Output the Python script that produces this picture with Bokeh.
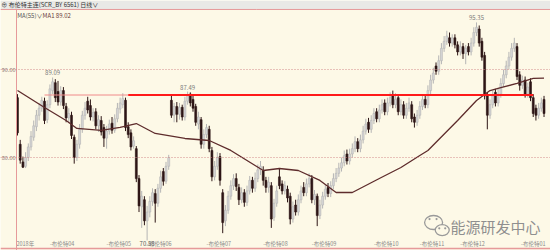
from bokeh.plotting import figure
from bokeh.models import Range1d, Span, BoxAnnotation, Label, ColumnDataSource
from bokeh.core.properties import value
from bokeh.embed import file_html
from bokeh.resources import INLINE

# ---------------- data ----------------
opens = [86.8, 81.5, 79.5, 79.0, 80.0, 81.2, 82.3, 83.5, 84.8, 85.6,
         86.4, 84.3, 86.0, 87.6, 88.5, 87.5, 86.3, 87.6, 85.8, 84.5,
         84.8, 82.3, 80.0, 81.5, 83.2, 84.8, 86.4, 85.9, 84.6, 85.2,
         83.6, 84.2, 83.4, 82.2, 83.0, 83.9, 83.1, 84.4, 85.5, 86.0,
         86.5, 83.5, 82.8, 81.3, 81.0, 77.6, 74.4, 75.2, 72.8, 73.8,
         75.0, 75.9, 74.8, 76.5, 78.4, 77.3, 79.0, 86.5, 84.8, 85.8,
         84.9, 85.7, 84.6, 86.4, 87.2, 86.6, 85.8, 83.8, 84.3, 81.5,
         82.6, 83.2, 80.8, 77.8, 79.0, 80.1, 76.0, 72.8, 74.0, 75.6,
         76.8, 77.6, 76.6, 75.2, 76.0, 74.9, 76.2, 77.4, 76.5, 77.6,
         78.6, 78.5, 77.4, 76.6, 76.8, 73.2, 74.8, 77.8, 77.0, 76.2,
         76.4, 75.6, 73.0, 74.6, 73.8, 75.2, 76.6, 76.0, 77.0, 77.6,
         75.2, 75.6, 73.4, 74.6, 75.6, 76.6, 75.9, 76.8, 77.6, 78.2,
         78.8, 79.4, 80.4, 79.6, 80.4, 81.0, 81.8, 81.0, 82.0, 83.0,
         84.0, 83.2, 84.2, 85.2, 84.4, 85.4, 86.2, 85.2, 86.2, 87.0,
         86.0, 86.8, 85.2, 86.0, 84.8, 85.6, 86.0, 84.6, 84.0, 84.8,
         85.8, 86.6, 86.0, 87.6, 88.8, 90.4, 89.8, 91.0, 92.4, 93.2,
         93.6, 93.0, 93.6, 92.8, 92.0, 92.6, 91.8, 92.6, 92.0, 93.0,
         94.2, 94.6, 93.2, 91.6, 87.0, 84.8, 86.0, 87.4, 86.2, 87.2,
         88.4, 89.4, 90.4, 91.4, 92.4, 92.6, 89.4, 88.2, 88.8, 87.2,
         88.6, 86.8, 85.6, 84.8, 85.6, 86.6]
highs = [87.2, 82.0, 80.1, 80.6, 81.6, 83.0, 84.2, 85.4, 86.2, 86.9,
         86.8, 86.5, 88.3, 89.09, 88.9, 88.7, 88.1, 88.0, 86.2, 85.6,
         85.2, 82.6, 82.0, 83.8, 85.3, 86.3, 86.9, 86.6, 85.6, 85.6,
         84.8, 84.7, 83.8, 83.6, 84.3, 84.6, 84.9, 86.2, 86.8, 87.3,
         86.8, 84.0, 83.2, 82.4, 81.3, 78.0, 76.2, 75.6, 74.5, 75.6,
         76.5, 76.4, 77.0, 78.5, 78.8, 79.5, 80.3, 87.0, 86.2, 86.3,
         86.2, 86.0, 86.9, 87.49, 87.4, 87.1, 86.1, 85.2, 84.6, 83.2,
         83.8, 83.6, 81.2, 79.6, 80.6, 80.5, 76.4, 74.6, 76.2, 77.4,
         78.1, 78.2, 77.0, 76.6, 76.4, 76.8, 77.9, 77.8, 78.3, 79.2,
         79.6, 79.0, 77.8, 77.8, 77.2, 75.3, 76.8, 78.8, 77.4, 77.3,
         76.8, 76.0, 75.0, 75.2, 75.8, 76.8, 77.2, 77.6, 78.2, 78.0,
         76.3, 75.9, 75.2, 76.1, 76.9, 77.1, 77.3, 78.2, 78.8, 79.4,
         80.0, 80.8, 80.9, 81.0, 81.6, 82.4, 82.2, 82.6, 83.6, 84.4,
         84.5, 84.8, 85.6, 85.6, 86.0, 86.6, 86.6, 86.8, 87.4, 87.6,
         87.3, 87.2, 86.6, 86.4, 86.2, 86.8, 86.4, 85.0, 85.4, 86.4,
         87.2, 87.0, 88.2, 89.4, 90.2, 90.8, 91.6, 93.0, 93.8, 94.4,
         94.2, 94.0, 94.0, 93.2, 93.2, 93.0, 92.8, 93.0, 93.6, 94.8,
         95.35, 95.0, 93.6, 92.0, 87.4, 86.6, 87.6, 87.8, 87.8, 89.0,
         90.0, 91.0, 92.0, 93.0, 93.6, 93.0, 89.8, 89.3, 89.2, 88.5,
         89.0, 87.2, 86.0, 86.2, 86.8, 87.0]
lows = [82.5, 79.3, 78.8, 78.8, 79.6, 80.8, 81.9, 83.0, 84.2, 85.2,
        83.8, 83.9, 85.6, 87.2, 86.3, 85.9, 85.9, 85.5, 84.0, 83.9,
        82.1, 79.3, 79.6, 81.0, 82.8, 84.3, 85.0, 84.2, 84.1, 83.2,
        82.9, 82.5, 81.2, 81.0, 82.6, 82.7, 82.8, 84.0, 85.0, 85.6,
        83.0, 82.2, 80.8, 81.0, 77.2, 73.8, 72.0, 72.3, 70.58, 73.2,
        74.5, 72.6, 74.4, 76.0, 76.8, 77.0, 78.6, 84.5, 84.0, 84.0,
        84.3, 84.2, 84.2, 86.0, 85.8, 85.2, 83.6, 83.2, 81.0, 81.0,
        82.2, 80.6, 77.3, 77.4, 78.6, 76.8, 71.4, 72.2, 73.6, 75.2,
        76.3, 76.2, 74.6, 74.8, 74.4, 74.5, 75.8, 76.0, 76.1, 77.2,
        78.0, 76.8, 76.0, 76.0, 72.0, 72.8, 74.4, 76.4, 75.8, 75.8,
        74.9, 72.4, 72.6, 73.4, 73.4, 74.8, 75.6, 75.6, 76.6, 74.8,
        74.6, 72.2, 73.0, 74.2, 75.2, 75.5, 75.5, 76.4, 77.2, 77.8,
        78.4, 79.0, 79.2, 79.2, 80.0, 80.6, 80.6, 80.6, 81.6, 82.6,
        82.8, 82.8, 83.8, 84.0, 84.0, 85.0, 84.8, 84.8, 85.8, 85.6,
        85.6, 84.8, 84.8, 84.4, 84.4, 85.2, 84.0, 83.4, 83.6, 84.4,
        85.4, 85.6, 85.6, 87.2, 88.4, 89.4, 89.4, 90.6, 92.0, 92.8,
        92.6, 92.6, 92.4, 91.6, 91.6, 91.2, 90.6, 91.6, 91.6, 92.6,
        93.8, 92.6, 91.0, 86.6, 83.2, 84.4, 85.6, 85.8, 85.8, 86.8,
        88.0, 89.0, 90.0, 91.0, 92.0, 88.8, 87.6, 87.8, 86.8, 86.8,
        86.4, 84.6, 84.2, 84.4, 85.2, 84.6]
closes = [82.8, 79.7, 78.9, 80.0, 81.2, 82.4, 83.6, 84.8, 85.6, 86.5,
          84.2, 86.0, 87.8, 88.6, 86.8, 86.3, 87.6, 85.9, 84.5, 85.0,
          82.5, 80.0, 81.5, 83.2, 84.8, 85.6, 85.4, 84.6, 85.1, 83.6,
          84.3, 82.9, 82.2, 83.0, 83.8, 83.1, 84.4, 85.6, 86.2, 86.7,
          83.4, 82.6, 81.2, 81.9, 77.6, 74.5, 75.6, 72.8, 73.8, 75.0,
          76.0, 74.8, 76.5, 77.8, 77.3, 79.0, 80.0, 84.8, 85.8, 84.9,
          85.7, 84.6, 86.4, 87.0, 86.2, 85.6, 84.0, 84.6, 81.5, 82.6,
          83.4, 81.0, 77.8, 79.0, 80.0, 77.4, 72.6, 74.0, 75.6, 76.8,
          77.6, 76.7, 75.2, 76.0, 74.9, 76.2, 77.4, 76.5, 77.6, 78.6,
          79.0, 77.4, 76.6, 77.2, 73.0, 74.8, 76.2, 76.8, 76.2, 76.8,
          75.4, 73.0, 74.4, 73.8, 75.2, 76.2, 76.0, 77.0, 77.6, 75.2,
          75.8, 73.4, 74.6, 75.6, 76.4, 75.9, 76.8, 77.6, 78.2, 78.8,
          79.4, 80.2, 79.6, 80.4, 81.0, 81.8, 81.0, 82.0, 83.0, 83.8,
          83.2, 84.2, 85.0, 84.4, 85.4, 86.0, 85.2, 86.2, 86.8, 86.0,
          86.6, 85.2, 86.0, 84.8, 85.6, 86.2, 84.4, 84.0, 84.8, 85.8,
          86.6, 86.0, 87.6, 88.8, 89.6, 89.8, 91.0, 92.4, 93.2, 93.8,
          93.0, 93.6, 92.8, 92.0, 92.6, 91.8, 92.4, 92.0, 93.0, 94.2,
          94.8, 93.0, 91.4, 87.0, 84.8, 86.0, 87.0, 86.2, 87.2, 88.4,
          89.4, 90.4, 91.4, 92.4, 93.0, 89.2, 88.2, 88.8, 87.2, 88.0,
          86.8, 85.0, 84.8, 85.6, 86.2, 85.0]

# MA(55) line read at sample positions (candle index, price)
ma_idx = [0, 10, 18, 22, 31, 38, 44, 51, 62, 71, 79, 91, 97, 104, 112, 118,
          124, 134, 142, 149, 152, 163, 170, 175, 179, 185, 191, 195]
ma_val = [87.61, 85.68, 84.2, 83.3, 83.07, 83.41, 83.86, 82.73, 82.16, 81.93,
          80.8, 78.52, 78.75, 78.52, 77.39, 76.02, 76.02, 77.61, 78.86, 80.23,
          80.8, 84.2, 86.48, 87.61, 87.95, 88.41, 88.98, 89.02]

# horizontal red resistance line
red_level = 87.1
red_thin_span = [10, 41]
red_thick_span = [41, 191]

# marked extremes
peak_idx = [13, 63, 170]
peak_val = [89.09, 87.49, 95.35]
low_idx = [48]
low_val = [70.58]

# y gridline values
y_ticks = [80.0, 90.0]

# x axis labels (index where each label starts)
x_label_idx = [-0.4, 12, 33, 48, 70, 91, 109, 132, 149, 164, 186.5]
x_labels = ["2018年", "-布伦特04", "-布伦特05", "-布伦特06", "-布伦特07",
            "-布伦特08", "-布伦特09", "-布伦特10", "-布伦特11", "-布伦特12",
            "-布伦特01"]

# ---------------- styling ----------------
CREAM = "#fdf9e7"
PINK = "#e69a9a"
UP_FILL = "#d6d6d6"
UP_LINE = "#b5b5b5"
DOWN = "#2e1616"
MA_COL = "#5e2c2c"
FONT = "Noto Sans CJK SC"

p = figure(width=550, height=250,
           x_range=Range1d(-6.3, 197.4), y_range=Range1d(69.43, 97.84),
           output_backend="svg", toolbar_location=None,
           x_axis_location=None, y_axis_location=None,
           min_border=0, min_border_left=0, min_border_right=0,
           min_border_top=0, min_border_bottom=0,
           background_fill_color=CREAM, border_fill_color=CREAM,
           outline_line_color=None)
p.grid.visible = False
p.title.visible = False

# borders and dotted gridlines
p.add_layout(Span(location=-0.37, dimension="height", line_color=PINK, line_width=1))
p.add_layout(Span(location=69.66, dimension="width", line_color=PINK, line_width=1.5))
for t in y_ticks:
    p.add_layout(Span(location=t, dimension="width", line_color="#d28a8a",
                      line_width=1, line_dash="1 2"))

# header bar
p.add_layout(BoxAnnotation(bottom=96.82, fill_color="#e9e9e6", fill_alpha=1,
                           line_alpha=0))
p.add_layout(Span(location=96.82, dimension="width", line_color=PINK, line_width=1))
p.add_layout(Label(x=-6.0, y=97.33, text="⊕ 布伦特主连(SCR_BY 6561)   日线∨",
                   text_font=FONT, text_font_size="6px", text_color="#333333",
                   text_baseline="middle"))

# candles
idx = list(range(len(closes)))
up = [c >= o for o, c in zip(opens, closes)]


def src(flag):
    sel = [i for i in idx if up[i] == flag]
    return ColumnDataSource(dict(
        x=sel,
        hi=[highs[i] for i in sel],
        lo=[lows[i] for i in sel],
        top=[max(opens[i], closes[i]) for i in sel],
        bot=[min(opens[i], closes[i]) for i in sel]))


s_up = src(True)
s_dn = src(False)
p.segment(x0="x", y0="lo", x1="x", y1="hi", source=s_up, line_color=UP_LINE, line_width=1)
p.vbar(x="x", width=0.72, top="top", bottom="bot", source=s_up,
       fill_color=UP_FILL, line_color=UP_LINE, line_width=0.6)
p.segment(x0="x", y0="lo", x1="x", y1="hi", source=s_dn, line_color=DOWN, line_width=1)
p.vbar(x="x", width=0.72, top="top", bottom="bot", source=s_dn,
       fill_color=DOWN, line_color=DOWN, line_width=0.6)

# MA line
p.line(ma_idx, ma_val, line_color=MA_COL, line_width=1.3)

# red horizontal line
p.line(red_thin_span, [red_level, red_level], line_color="#f08a8a", line_width=1)
p.line(red_thick_span, [red_level, red_level], line_color="#ff1a1a", line_width=2)

# extremes labels
p.text(x=peak_idx, y=peak_val, text=[f"{v:.2f}" for v in peak_val],
       text_font=value(FONT), text_font_size="6px", text_color="#7a7a7a",
       text_align="center", text_baseline="bottom", y_offset=-2)
p.text(x=low_idx, y=low_val, text=[f"{v:.2f}" for v in low_val],
       text_font=value(FONT), text_font_size="6px", text_color="#555555",
       text_align="center", text_baseline="top", y_offset=1)

# y tick labels
p.text(x=[-0.74] * len(y_ticks), y=y_ticks, text=[f"{t:.2f}" for t in y_ticks],
       text_font=value(FONT), text_font_size="5.5px", text_color="#8a7070",
       text_align="right", text_baseline="middle")

# x labels
p.text(x=x_label_idx, y=[69.72] * len(x_labels), text=x_labels,
       text_font=value(FONT), text_font_size="5.5px", text_color="#8a8a8a",
       text_align="left", text_baseline="bottom")

# MA legend text
p.add_layout(Label(x=-0.1, y=96.59, text="MA(55)∨", text_font=FONT,
                   text_font_size="6px", text_color="#555555", text_baseline="top"))
p.add_layout(Label(x=9.3, y=96.59, text="MA1 89.02", text_font=FONT,
                   text_font_size="6px", text_color="#6b3a3a", text_baseline="top"))

# watermark (WeChat-like icon + text)
p.ellipse(x=[154.1], y=[72.61], width=18, height=14, width_units="screen",
          height_units="screen", fill_color=CREAM, line_color="#9a9a9a", line_width=1.3)
p.ellipse(x=[157.3], y=[71.75], width=14, height=11, width_units="screen",
          height_units="screen", fill_color=CREAM, line_color="#9a9a9a", line_width=1.3)
p.scatter(x=[152.6, 155.2, 156.2, 158.4], y=[73.0, 73.0, 71.95, 71.95], size=2.2,
          fill_color="#9a9a9a", line_color=None)
p.text(x=[160.4], y=[72.2], text=["能源研发中心"], text_font=value(FONT),
       text_font_size="15px", text_color="#8f8f8f", text_align="left",
       text_baseline="middle")

open("out.html", "w").write(file_html(p, INLINE))
